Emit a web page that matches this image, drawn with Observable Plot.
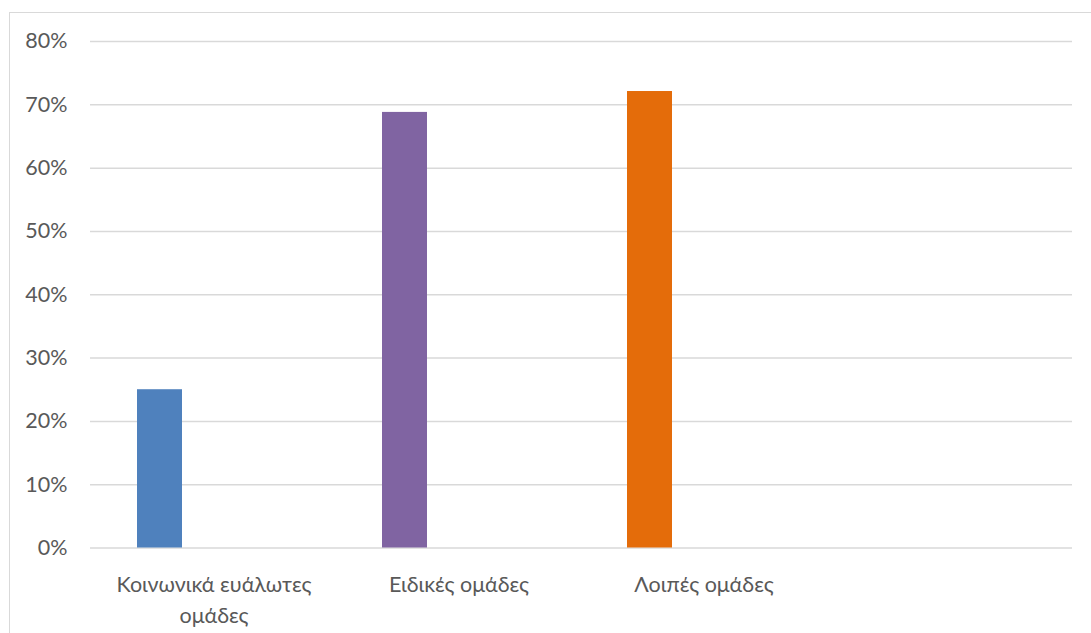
<!DOCTYPE html>
<html><head><meta charset="utf-8">
<script src="https://cdn.jsdelivr.net/npm/d3@7"></script>
<script src="https://cdn.jsdelivr.net/npm/@observablehq/plot@0.6"></script>
<style>
body{margin:0;background:#fff;}
#wrap{position:relative;width:1091px;height:633px;overflow:hidden;}
#frame{position:absolute;left:9px;top:12px;width:1100px;height:660px;border:1.5px solid #d9d9d9;}
#chart{position:absolute;left:0;top:0;}
</style></head>
<body><div id="wrap"><div id="frame"></div><div id="chart"></div></div>
<script>
const categories = ["Κοινωνικά ευάλωτες ομάδες", "Ειδικές ομάδες", "Λοιπές ομάδες", ""];
const tickLabels = ["Κοινωνικά ευάλωτες\nομάδες", "Ειδικές ομάδες", "Λοιπές ομάδες", ""];
const values = [25, 68.8, 72.1, null];
const colors = ["#4f81bd", "#8064a2", "#e46c0a", "#ffffff"];
const yTicks = [0, 10, 20, 30, 40, 50, 60, 70, 80];

const data = categories.map((c, i) => ({category: c, value: values[i]})).filter(d => d.value != null);

const chart = Plot.plot({
  width: 1091,
  height: 633,
  marginLeft: 90,
  marginRight: 19,
  marginTop: 41,
  marginBottom: 85.5,
  style: {fontFamily: "Lato, 'Open Sans', sans-serif", fontSize: "21.5px", color: "#595959", background: "transparent"},
  x: {domain: categories, padding: 0, axis: null},
  y: {domain: [0, 80], axis: null},
  color: {domain: categories, range: colors},
  marks: [
    Plot.ruleY(yTicks, {stroke: "#d9d9d9", strokeWidth: 1.5}),
    Plot.barY(data, {x: "category", y: "value", fill: "category", insetLeft: 46, insetRight: 154}),
    Plot.axisY({ticks: yTicks, tickFormat: d => d + "%", tickSize: 0, tickPadding: 23, fill: "#595959", label: null}),
    Plot.axisX({tickSize: 0, tickPadding: 22, lineHeight: 1.45, fill: "#595959", label: null,
      tickFormat: d => tickLabels[categories.indexOf(d)]})
  ]
});
document.getElementById("chart").append(chart);
</script>
</body></html>
